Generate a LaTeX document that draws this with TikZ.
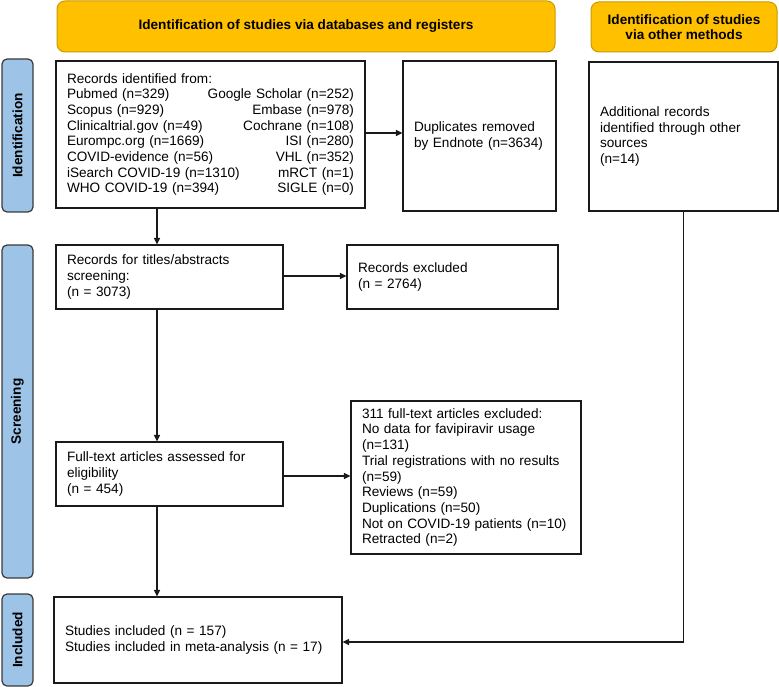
\documentclass[tikz,border=0pt]{standalone}
\usepackage{fontspec}
\setmainfont{Liberation Sans}
\usetikzlibrary{arrows.meta,calc}
\definecolor{hdrfill}{HTML}{FFC000}
\definecolor{hdrdraw}{HTML}{C99A00}
\definecolor{sidefill}{HTML}{9DC3E6}
\definecolor{sidedraw}{HTML}{3A3A3A}
\definecolor{boxdraw}{HTML}{1A1A1A}
\newcommand\bodyfont{\fontsize{13.6pt}{15.7pt}\selectfont}
\newcommand\twocol[2]{\leavevmode\hbox to 287pt{#1\hfill #2}}
\begin{document}
\begin{tikzpicture}[x=1pt,y=-1pt,
  every node/.style={font=\bodyfont},
  hdr/.style={draw=hdrdraw, fill=hdrfill, line width=1pt, rounded corners=8pt, align=center, font=\bodyfont\bfseries, inner sep=0pt},
  side/.style={draw=sidedraw, fill=sidefill, line width=1.2pt, rounded corners=5pt, font=\bodyfont\bfseries, inner sep=0pt, rotate=90},
  box/.style={draw=boxdraw, line width=1.2pt, align=left, inner xsep=11pt, inner ysep=0pt},
  arr/.style={draw=boxdraw, line width=1.2pt, -{Triangle[length=6.5pt,width=6pt]}}
]
\useasboundingbox (0,0) rectangle (779,687);

% headers
\node[hdr, minimum width=498pt, minimum height=51pt] (h1) at (306,26.5) {Identification of studies via databases and registers};
\node[hdr, minimum width=186pt, minimum height=50pt] (h2) at (684,27) {Identification of studies\\via other methods};

% side labels
\node[side, minimum width=153pt, minimum height=31pt] (s1) at (17.5,135.5) {Identification};
\node[side, minimum width=333pt, minimum height=31pt] (s2) at (17.5,411.5) {Screening};
\node[side, minimum width=92pt, minimum height=31pt] (s3) at (17.5,640) {Included};

% identification
\node[box, text width=287pt, minimum height=147pt] (rec) at (210.5,134.5) {%
Records identified from:\\
\twocol{Pubmed (n=329)}{Google Scholar (n=252)}\\
\twocol{Scopus (n=929)}{Embase (n=978)}\\
\twocol{Clinicaltrial.gov (n=49)}{Cochrane (n=108)}\\
\twocol{Eurompc.org (n=1669)}{ISI (n=280)}\\
\twocol{COVID-evidence (n=56)}{VHL (n=352)}\\
\twocol{iSearch COVID-19 (n=1310)}{mRCT (n=1)}\\
\twocol{WHO COVID-19 (n=394)}{SIGLE (n=0)}\par\vspace{5pt}};
\node[box, text width=131pt, minimum height=150pt] (dup) at (479.5,136) {Duplicates removed\\by Endnote (n=3634)};
\node[box, text width=167pt, minimum height=149pt] (add) at (683.5,136.5) {Additional records\\identified through other\\sources\\(n=14)};

% screening
\node[box, text width=205pt, minimum height=64pt] (scr) at (169.5,277) {Records for titles/abstracts\\screening:\\(n = 3073)};
\node[box, text width=189pt, minimum height=64pt] (exc1) at (452.5,277) {Records excluded\\(n = 2764)};
\node[box, text width=205pt, minimum height=64pt] (full) at (169.5,474) {Full-text articles assessed for\\eligibility\\(n = 454)};
\node[box, text width=208pt, minimum height=153pt] (exc2) at (466,477.5) {311 full-text articles excluded:\\No data for favipiravir usage\\(n=131)\\Trial registrations with no results\\(n=59)\\Reviews (n=59)\\Duplications (n=50)\\Not on COVID-19 patients (n=10)\\Retracted (n=2)};

% included
\node[box, text width=266pt, minimum height=86pt] (inc) at (198,640) {Studies included (n = 157)\\Studies included in meta-analysis (n = 17)};

% connectors
\coordinate (ax) at (157,0);
\draw[arr] (rec.east |- 0,133) -- (dup.west |- 0,133);
\draw[arr] (rec.south -| ax) -- (scr.north -| ax);
\draw[arr] (scr.east |- 0,276) -- (exc1.west |- 0,276);
\draw[arr] (scr.south -| ax) -- (full.north -| ax);
\draw[arr] (full.east |- 0,476) -- (exc2.west |- 0,476);
\draw[arr] (full.south -| ax) -- (inc.north -| ax);
\draw[arr] (add.south) -- (add.south |- 0,642) -- (inc.east |- 0,642);
\end{tikzpicture}
\end{document}
